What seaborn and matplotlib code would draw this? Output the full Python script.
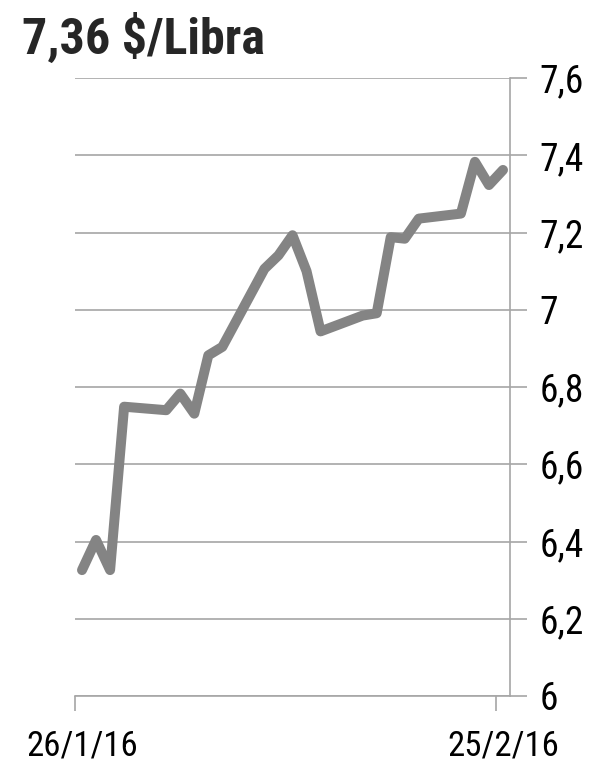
import pandas as pd
import matplotlib
matplotlib.use("Agg")
import matplotlib.pyplot as plt
from matplotlib import font_manager
from matplotlib.ticker import FuncFormatter
import seaborn as sns

# Precio (dólares por libra), días hábiles del 26/1/16 al 25/2/16
fechas = ["2016-01-26", "2016-01-27", "2016-01-28", "2016-01-29",
          "2016-02-01", "2016-02-02", "2016-02-03", "2016-02-04", "2016-02-05",
          "2016-02-08", "2016-02-09", "2016-02-10", "2016-02-11", "2016-02-12",
          "2016-02-15", "2016-02-16", "2016-02-17", "2016-02-18", "2016-02-19",
          "2016-02-22", "2016-02-23", "2016-02-24", "2016-02-25"]
precios = [6.326, 6.404, 6.326, 6.749,
           6.740, 6.783, 6.731, 6.882, 6.904,
           7.106, 7.141, 7.193, 7.100, 6.944,
           6.985, 6.991, 7.188, 7.184, 7.236,
           7.249, 7.383, 7.323, 7.362]
titulo = "7,36 $/Libra"
etiquetas_x = ["26/1/16", "25/2/16"]
ticks_y = [6.0, 6.2, 6.4, 6.6, 6.8, 7.0, 7.2, 7.4, 7.6]

df = pd.DataFrame({"fecha": pd.to_datetime(fechas), "precio": precios})

sns.set_style("white")

# Fuente estrecha si existe; si no, Liberation Sans algo más pequeña
nombres = {f.name for f in font_manager.fontManager.ttflist}
estrechas = ["Liberation Sans Narrow", "Arial Narrow", "Roboto Condensed",
             "Open Sans Condensed", "Noto Sans Condensed"]
fuente = next((n for n in estrechas if n in nombres), None)
if fuente:
    t_y, t_x, t_titulo, pad_y = 27, 25, 36, 9
else:
    fuente, t_y, t_x, t_titulo, pad_y = "Liberation Sans", 22, 22, 32, 16
plt.rcParams["font.family"] = [fuente, "DejaVu Sans"]

fig = plt.figure(figsize=(6, 7.78), dpi=100)
ax = fig.add_axes([0.125, 0.1054, 0.725, 0.7943])

gris_linea = "#848484"
gris_rejilla = "#a6a6a6"

sns.lineplot(data=df, x="fecha", y="precio", ax=ax, color=gris_linea,
             linewidth=7.2, solid_joinstyle="round", solid_capstyle="round")

medio_dia = pd.Timedelta(hours=12)
ax.set_xlim(df["fecha"].iloc[0] - medio_dia, df["fecha"].iloc[-1] + medio_dia)
ax.set_ylim(ticks_y[0], ticks_y[-1])

# Eje Y a la derecha, con coma decimal
ax.yaxis.tick_right()
ax.set_yticks(ticks_y)
ax.yaxis.set_major_formatter(FuncFormatter(
    lambda v, p: f"{v:.1f}".rstrip("0").rstrip(".").replace(".", ",")))
ax.tick_params(axis="y", which="major", direction="out", length=12, width=1.2,
               color=gris_rejilla, labelsize=t_y, pad=pad_y, labelcolor="black")

# Eje X: etiquetas en la primera y última fecha, marcas medio día antes
extremos = [df["fecha"].iloc[0], df["fecha"].iloc[-1]]
ax.set_xticks(extremos)
ax.set_xticklabels(etiquetas_x)
ax.set_xticks([d - medio_dia for d in extremos], minor=True)
ax.tick_params(axis="x", which="major", length=0, labelsize=t_x, pad=24,
               labelcolor="black")
ax.tick_params(axis="x", which="minor", direction="out", length=11, width=1.2,
               color=gris_rejilla, bottom=True)

ax.grid(axis="y", color=gris_rejilla, linewidth=1.2)
ax.grid(axis="x", visible=False)
ax.set_axisbelow(True)

for lado in ["top", "left"]:
    ax.spines[lado].set_visible(False)
for lado in ["right", "bottom"]:
    ax.spines[lado].set_color(gris_rejilla)
    ax.spines[lado].set_linewidth(1.2)

ax.set_xlabel("")
ax.set_ylabel("")

fig.text(0.037, 0.9306, titulo, fontsize=t_titulo, fontweight="bold",
         va="baseline", ha="left")

fig.savefig("out.png", dpi=100, facecolor="white")
